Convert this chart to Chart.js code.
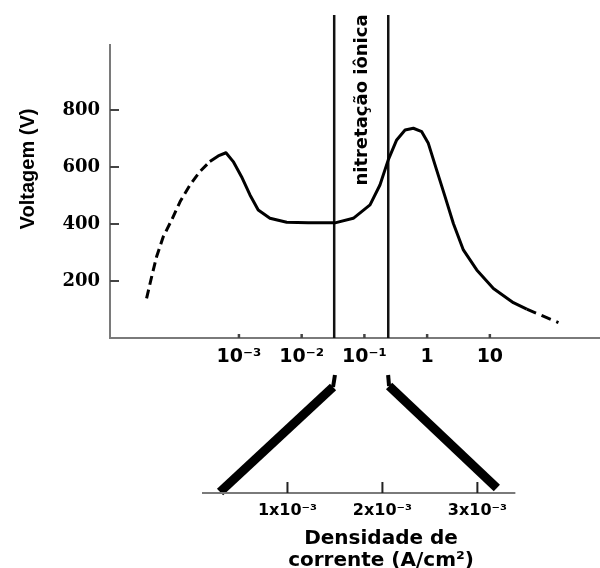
<!DOCTYPE html>
<html>
<head>
<meta charset="utf-8">
<script src="https://cdn.jsdelivr.net/npm/chart.js@4/dist/chart.umd.min.js"></script>
<style>
  html, body { margin: 0; padding: 0; background: #fff; width: 600px; height: 568px; overflow: hidden; }
  #main { position: absolute; left: 0; top: 0; }
  #inset { position: absolute; left: 0; top: 360px; }
</style>
</head>
<body>
<canvas id="main" width="600" height="390"></canvas>
<canvas id="inset" width="600" height="212"></canvas>
<script>
// ---- Main curve: current density (A/cm²) vs voltage (V) ----
const currentDensity = [
  3.37e-5, 4.06e-5, 4.86e-5, 6.21e-5, 8.45e-5, 1.15e-4, 1.66e-4, 2.39e-4, 3.44e-4,
  4.68e-4, 6.21e-4, 8.11e-4, 1.10e-3, 1.50e-3, 2.03e-3, 3.12e-3, 5.77e-3, 0.0127,
  0.0340, 0.0665, 0.123, 0.177, 0.240, 0.327, 0.445, 0.603, 0.820, 1.045, 1.42,
  1.93, 2.62, 3.78, 6.18, 11.4, 23.7, 38.8, 124
];
const voltage = [
  139, 215, 285, 355, 414, 478, 537, 584, 619,
  639, 650, 619, 566, 502, 449, 420, 406, 404,
  404, 420, 467, 537, 625, 695, 730, 736, 724, 683, 589,
  496, 402, 309, 239, 174, 124, 101, 54
];
const dashedBelow = 3.5e-4;   // extrapolated (dashed) part at low current
const dashedAbove = 38;       // extrapolated (dashed) part at high current

const xTickValues = [1e-3, 1e-2, 1e-1, 1, 10];
const xTickLabels = ['10⁻³', '10⁻²', '10⁻¹', '1', '10'];
const yTickValues = [200, 400, 600, 800];

// ionic nitriding window
const regionBounds = [0.033, 0.24];
const regionTop = 1133;
const regionLabel = 'nitretação iônica';

// ---- Inset (linear current density scale) ----
const insetTickValues = [1e-3, 2e-3, 3e-3];
const insetTickLabels = ['1x10⁻³', '2x10⁻³', '3x10⁻³'];
const insetLeftX = [1.50e-3, 1.48e-3, 0.29e-3];
const insetLeftY = [1, 0.898, 0.008];
const insetRightX = [2.06e-3, 2.07e-3, 3.205e-3];
const insetRightY = [1, 0.907, 0.042];
const insetAxisEnd = 3.4e-3;

const sans = "'DejaVu Sans', Verdana, sans-serif";
const serif = "'DejaVu Serif', 'Liberation Serif', serif";
const arial = "'Liberation Sans', Arial, sans-serif";

const points = currentDensity.map((v, i) => ({ x: v, y: voltage[i] }));
const iLow = currentDensity.filter(v => v <= dashedBelow).length - 1;
const iHigh = currentDensity.findIndex(v => v >= dashedAbove);
const curveLeft = points.slice(0, iLow + 1);
const curveMid = points.slice(iLow, iHigh + 1);
const curveRight = points.slice(iHigh);

const noPad = s => { s.paddingTop = 0; s.paddingBottom = 0; s.paddingLeft = 0; s.paddingRight = 0; };

const mainDeco = {
  id: 'mainDeco',
  afterDraw(chart) {
    const { ctx, chartArea: a, scales: { x, y } } = chart;
    ctx.save();
    // y axis line (stops above the 800 tick)
    ctx.strokeStyle = '#7a7a7a';
    ctx.lineWidth = 2;
    ctx.beginPath();
    ctx.moveTo(a.left, y.getPixelForValue(0));
    ctx.lineTo(a.left, y.getPixelForValue(1032));
    ctx.stroke();
    // inward ticks
    ctx.strokeStyle = '#444';
    yTickValues.forEach(v => {
      const py = y.getPixelForValue(v);
      ctx.beginPath(); ctx.moveTo(a.left, py); ctx.lineTo(a.left + 9, py); ctx.stroke();
    });
    ctx.lineWidth = 2.5;
    xTickValues.forEach(v => {
      const px = x.getPixelForValue(v);
      ctx.beginPath(); ctx.moveTo(px, a.bottom); ctx.lineTo(px, a.bottom - 4); ctx.stroke();
    });
    // rotated region label
    const cx = (x.getPixelForValue(regionBounds[0]) + x.getPixelForValue(regionBounds[1])) / 2 + 1;
    ctx.translate(cx, a.top + 100);
    ctx.rotate(-Math.PI / 2);
    ctx.fillStyle = '#000';
    ctx.font = "bold 18px " + sans;
    ctx.textAlign = 'center';
    ctx.textBaseline = 'middle';
    ctx.fillText(regionLabel, 0, 0);
    ctx.restore();
  }
};

const curveStyle = { borderColor: '#000', borderWidth: 3, pointRadius: 0, tension: 0, borderJoinStyle: 'round' };

new Chart(document.getElementById('main'), {
  type: 'line',
  data: {
    datasets: [
      Object.assign({ data: curveLeft, borderDash: [9, 5] }, curveStyle),
      Object.assign({ data: curveMid }, curveStyle),
      Object.assign({ data: curveRight, borderDash: [10, 6] }, curveStyle),
      {
        data: [{ x: regionBounds[0], y: 0 }, { x: regionBounds[0], y: regionTop }],
        borderColor: '#111', borderWidth: 2.5, pointRadius: 0
      },
      {
        data: [{ x: regionBounds[1], y: 0 }, { x: regionBounds[1], y: regionTop }],
        borderColor: '#111', borderWidth: 2.5, pointRadius: 0
      }
    ]
  },
  options: {
    responsive: false,
    animation: false,
    events: [],
    layout: { padding: 0 },
    plugins: { legend: { display: false }, tooltip: { enabled: false } },
    scales: {
      x: {
        type: 'logarithmic',
        min: 8.8e-6,
        max: 570,
        afterBuildTicks: s => { s.ticks = xTickValues.map(v => ({ value: v })); },
        afterFit: s => { s.height = 52; noPad(s); },
        grid: { display: false, drawTicks: false },
        border: { display: true, color: '#7a7a7a', width: 2 },
        ticks: {
          autoSkip: false, maxRotation: 0, padding: 8, color: '#000',
          font: { family: sans, weight: 'bold', size: 19 },
          callback: (v, i) => xTickLabels[i]
        }
      },
      y: {
        min: 0,
        max: 1186,
        afterBuildTicks: s => { s.ticks = yTickValues.map(v => ({ value: v })); },
        afterFit: s => { s.width = 110; noPad(s); },
        grid: { display: false, drawTicks: false },
        border: { display: false },
        ticks: { padding: 10, color: '#000', font: { family: serif, weight: 'bold', size: 18 } },
        title: {
          display: true, text: 'Voltagem (V)', color: '#000',
          font: { family: arial, weight: 'bold', size: 20 },
          padding: { top: 16, bottom: 0 }
        }
      }
    }
  },
  plugins: [mainDeco]
});

const insetDeco = {
  id: 'insetDeco',
  afterDraw(chart) {
    const { ctx, chartArea: a, scales: { x } } = chart;
    ctx.save();
    ctx.strokeStyle = '#7a7a7a';
    ctx.lineWidth = 2;
    ctx.beginPath();
    ctx.moveTo(x.getPixelForValue(x.min), a.bottom);
    ctx.lineTo(x.getPixelForValue(insetAxisEnd), a.bottom);
    ctx.stroke();
    ctx.strokeStyle = '#222';
    insetTickValues.forEach(v => {
      const px = x.getPixelForValue(v);
      ctx.beginPath(); ctx.moveTo(px, a.bottom); ctx.lineTo(px, a.bottom - 11); ctx.stroke();
    });
    ctx.restore();
  }
};

const thickSeg = { borderWidth: c => c.p0DataIndex === 0 ? 4 : 9 };

new Chart(document.getElementById('inset'), {
  type: 'line',
  data: {
    datasets: [
      {
        data: insetLeftX.map((v, i) => ({ x: v, y: insetLeftY[i] })),
        borderColor: '#000', borderWidth: 9, pointRadius: 0, clip: false,
        borderJoinStyle: 'round', segment: thickSeg
      },
      {
        data: insetRightX.map((v, i) => ({ x: v, y: insetRightY[i] })),
        borderColor: '#000', borderWidth: 9, pointRadius: 0, clip: false,
        borderJoinStyle: 'round', segment: thickSeg
      }
    ]
  },
  options: {
    responsive: false,
    animation: false,
    events: [],
    layout: { padding: { top: 15, right: 40, bottom: 0, left: 202 } },
    plugins: { legend: { display: false }, tooltip: { enabled: false } },
    scales: {
      x: {
        type: 'linear',
        min: 1e-4,
        max: 3.87e-3,
        afterBuildTicks: s => { s.ticks = insetTickValues.map(v => ({ value: v })); },
        afterFit: s => { s.height = 79; noPad(s); },
        grid: { display: false, drawTicks: false },
        border: { display: false },
        ticks: {
          autoSkip: false, maxRotation: 0, padding: 8, color: '#000',
          font: { family: sans, weight: 'bold', size: 16 },
          callback: (v, i) => insetTickLabels[i]
        },
        title: {
          display: true,
          text: ['Densidade de', 'corrente (A/cm²)'],
          color: '#000',
          font: { family: sans, weight: 'bold', size: 20, lineHeight: 1.1 },
          padding: { top: 0, bottom: 0 }
        }
      },
      y: { display: false, min: 0, max: 1 }
    }
  },
  plugins: [insetDeco]
});
</script>
</body>
</html>
